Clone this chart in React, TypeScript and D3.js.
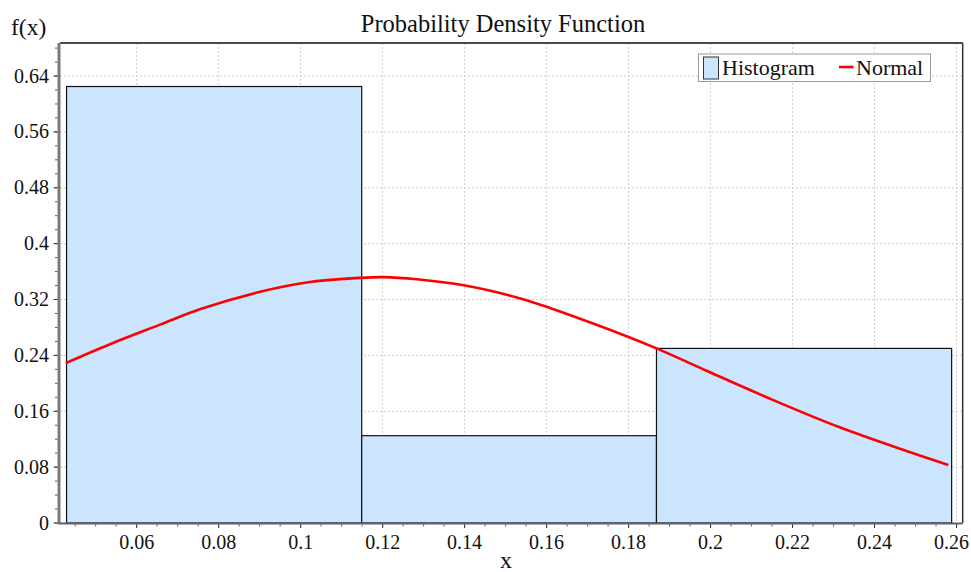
import React from "react";
import * as d3 from "d3";

const binEdges = [0.0429, 0.1149, 0.1868, 0.2588];
const binHeights = [0.625, 0.125, 0.25];
const normalX = [0.0427, 0.0535, 0.0657, 0.0754, 0.0901, 0.1023, 0.1145, 0.1201, 0.1283, 0.1401, 0.1527, 0.1608, 0.173, 0.1868, 0.199, 0.2153, 0.2315, 0.2478, 0.258];
const normalY = [0.229, 0.256, 0.284, 0.306, 0.331, 0.345, 0.351, 0.352, 0.349, 0.34, 0.323, 0.308, 0.282, 0.25, 0.218, 0.176, 0.137, 0.103, 0.083];
const xTicks = [0.06, 0.08, 0.1, 0.12, 0.14, 0.16, 0.18, 0.2, 0.22, 0.24, 0.26];
const yTicks = [0, 0.08, 0.16, 0.24, 0.32, 0.4, 0.48, 0.56, 0.64];
const title = "Probability Density Function";
const xLabel = "x";
const yLabel = "f(x)";
const legendLabels = ["Histogram", "Normal"];

const W = 971;
const H = 572;
const L = 60, R = 962.7, T = 43, B = 523;
const FONT = "'Liberation Serif', 'Times New Roman', 'DejaVu Serif', serif";

export default function App() {
  const x = d3.scaleLinear().domain([0.0413, 0.2615]).range([L, R]);
  const y = d3.scaleLinear().domain([0, 0.6873]).range([B, T]);
  const xMinor = d3.range(0.045, 0.2615, 0.005).filter((v) => x(v) >= L && x(v) <= R);
  const yMinor = d3.range(0, 0.6873, 0.02);
  const bins = binHeights.map((h, i) => ({ x0: binEdges[i], x1: binEdges[i + 1], h }));
  const pts = normalX.map((v, i) => [v, normalY[i]] as [number, number]);
  const line = d3.line<[number, number]>().x((d) => x(d[0])).y((d) => y(d[1])).curve(d3.curveCatmullRom.alpha(0.5));
  const fmt = (v: number) => String(+v.toFixed(2));
  const txt = { fontFamily: FONT };
  return (
    <svg width={W} height={H} style={{ position: "absolute", left: 0, top: 0, background: "#fff", fontFamily: FONT }}>
      <rect x={0} y={0} width={W} height={H} fill="#fff" />
      {/* grid */}
      {xTicks.map((t) => (
        <line key={"gx" + t} x1={x(t)} x2={x(t)} y1={T} y2={B} stroke="#cfcfcf" strokeDasharray="2,2" strokeWidth={1} />
      ))}
      {yTicks.map((t) => (
        <line key={"gy" + t} x1={L} x2={R} y1={y(t)} y2={y(t)} stroke="#cfcfcf" strokeDasharray="2,2" strokeWidth={1} />
      ))}
      {/* bars */}
      {bins.map((b, i) => (
        <rect key={"b" + i} x={x(b.x0)} y={y(b.h)} width={x(b.x1) - x(b.x0)} height={y(0) - y(b.h)} fill="#cce5ff" stroke="#111" strokeWidth={1.2} />
      ))}
      {/* normal curve */}
      <path d={line(pts) || ""} fill="none" stroke="#ff0000" strokeWidth={2.6} />
      {/* frame */}
      <line x1={L} x2={R} y1={T} y2={T} stroke="#111" strokeWidth={1.5} />
      <line x1={R} x2={R} y1={T} y2={B} stroke="#333" strokeWidth={1.5} />
      <line x1={L - 1} x2={L - 1} y1={T} y2={B + 1} stroke="#7a7a7a" strokeWidth={3} />
      <line x1={L - 2} x2={R} y1={B + 0.5} y2={B + 0.5} stroke="#5a6470" strokeWidth={2} />
      {/* y ticks */}
      {yMinor.map((t, i) => (
        <line key={"ym" + i} x1={L - 5} x2={L - 2.5} y1={y(t)} y2={y(t)} stroke="#555" strokeWidth={1} />
      ))}
      {yTicks.map((t) => (
        <g key={"yt" + t}>
          <line x1={L - 6.5} x2={L - 2.5} y1={y(t)} y2={y(t)} stroke="#333" strokeWidth={1} />
          <text x={L - 11} y={y(t) + 6.5} textAnchor="end" fontSize={20} fill="#111" style={txt}>{fmt(t)}</text>
        </g>
      ))}
      {/* x ticks */}
      {xMinor.map((t, i) => (
        <line key={"xm" + i} x1={x(t)} x2={x(t)} y1={B + 1.5} y2={B + 3.5} stroke="#555" strokeWidth={1} />
      ))}
      {xTicks.map((t) => {
        const px = x(t);
        const edge = px + 19 > W;
        return (
          <g key={"xt" + t}>
            <line x1={px} x2={px} y1={B + 1.5} y2={B + 5} stroke="#333" strokeWidth={1} />
            <text x={edge ? W - 2 : px} y={549} textAnchor={edge ? "end" : "middle"} fontSize={20} fill="#111" style={txt}>{fmt(t)}</text>
          </g>
        );
      })}
      {/* titles */}
      <text x={503} y={32} textAnchor="middle" fontSize={24.5} fill="#111" style={txt}>{title}</text>
      <text x={11} y={35} fontSize={23.5} fill="#111" style={txt}>{yLabel}</text>
      <text x={506} y={568} textAnchor="middle" fontSize={24} fill="#111" style={txt}>{xLabel}</text>
      {/* legend */}
      <g>
        <rect x={698.5} y={54} width={232} height={27.5} fill="#fff" stroke="#999" strokeWidth={1} />
        <rect x={703.5} y={57} width={15} height={22} fill="#cce5ff" stroke="#333" strokeWidth={1} />
        <text x={722} y={75} fontSize={22} fill="#111" style={txt}>{legendLabels[0]}</text>
        <line x1={839} x2={853.5} y1={67} y2={67} stroke="#ff0000" strokeWidth={2.6} />
        <text x={856} y={75} fontSize={22} fill="#111" style={txt}>{legendLabels[1]}</text>
      </g>
    </svg>
  );
}
